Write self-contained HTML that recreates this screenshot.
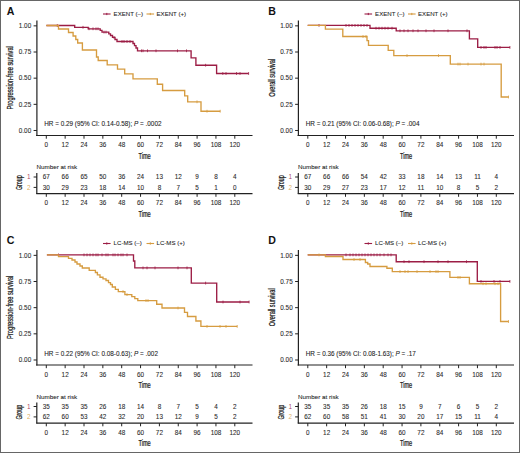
<!DOCTYPE html>
<html><head><meta charset="utf-8"><style>
html,body{margin:0;padding:0;background:#fff;}
svg{display:block;}
text{font-family:"Liberation Sans", sans-serif;}
.t{stroke:#2a2a2a;stroke-width:0.08px;}
</style></head><body>
<svg width="520" height="453" viewBox="0 0 520 453">
<rect x="0" y="0" width="520" height="453" fill="#fff"/>
<rect x="0.5" y="0.5" width="519" height="452" fill="none" stroke="#666" stroke-width="1"/>
<text x="6.8" y="14.9" font-size="10.6" font-weight="bold" fill="#111">A</text>
<line x1="103" y1="14" x2="110.6" y2="14" stroke="#9c1d45" stroke-width="1.1"/>
<line x1="106.8" y1="12.9" x2="106.8" y2="15.1" stroke="#9c1d45" stroke-width="1"/>
<text x="113.6" y="15.9" font-size="6.1" fill="#222" class="t">EXENT (–)</text>
<line x1="146.5" y1="14" x2="154.1" y2="14" stroke="#d69c40" stroke-width="1.1"/>
<line x1="150.3" y1="12.9" x2="150.3" y2="15.1" stroke="#d69c40" stroke-width="1"/>
<text x="156.5" y="15.9" font-size="6.1" fill="#222" class="t">EXENT (+)</text>
<line x1="36.9" y1="20.6" x2="36.9" y2="136.1" stroke="#222222" stroke-width="1.2"/>
<line x1="33.6" y1="25.85" x2="36.9" y2="25.85" stroke="#222222" stroke-width="1"/>
<text x="31.2" y="28.05" font-size="6.35" fill="#2a2a2a" class="t" text-anchor="end">1.00</text>
<line x1="33.6" y1="52.01" x2="36.9" y2="52.01" stroke="#222222" stroke-width="1"/>
<text x="31.2" y="54.21" font-size="6.35" fill="#2a2a2a" class="t" text-anchor="end">0.75</text>
<line x1="33.6" y1="78.17" x2="36.9" y2="78.17" stroke="#222222" stroke-width="1"/>
<text x="31.2" y="80.37" font-size="6.35" fill="#2a2a2a" class="t" text-anchor="end">0.50</text>
<line x1="33.6" y1="104.33" x2="36.9" y2="104.33" stroke="#222222" stroke-width="1"/>
<text x="31.2" y="106.53" font-size="6.35" fill="#2a2a2a" class="t" text-anchor="end">0.25</text>
<line x1="33.6" y1="130.49" x2="36.9" y2="130.49" stroke="#222222" stroke-width="1"/>
<text x="31.2" y="132.69" font-size="6.35" fill="#2a2a2a" class="t" text-anchor="end">0.00</text>
<line x1="36.1" y1="135.5" x2="252.5" y2="135.5" stroke="#222222" stroke-width="1.2"/>
<line x1="46.3" y1="135.5" x2="46.3" y2="138.7" stroke="#222222" stroke-width="1"/>
<text x="46.3" y="147.4" font-size="6.35" fill="#2a2a2a" class="t" text-anchor="middle">0</text>
<line x1="65.15" y1="135.5" x2="65.15" y2="138.7" stroke="#222222" stroke-width="1"/>
<text x="65.15" y="147.4" font-size="6.35" fill="#2a2a2a" class="t" text-anchor="middle">12</text>
<line x1="84" y1="135.5" x2="84" y2="138.7" stroke="#222222" stroke-width="1"/>
<text x="84" y="147.4" font-size="6.35" fill="#2a2a2a" class="t" text-anchor="middle">24</text>
<line x1="102.85" y1="135.5" x2="102.85" y2="138.7" stroke="#222222" stroke-width="1"/>
<text x="102.85" y="147.4" font-size="6.35" fill="#2a2a2a" class="t" text-anchor="middle">36</text>
<line x1="121.7" y1="135.5" x2="121.7" y2="138.7" stroke="#222222" stroke-width="1"/>
<text x="121.7" y="147.4" font-size="6.35" fill="#2a2a2a" class="t" text-anchor="middle">48</text>
<line x1="140.55" y1="135.5" x2="140.55" y2="138.7" stroke="#222222" stroke-width="1"/>
<text x="140.55" y="147.4" font-size="6.35" fill="#2a2a2a" class="t" text-anchor="middle">60</text>
<line x1="159.4" y1="135.5" x2="159.4" y2="138.7" stroke="#222222" stroke-width="1"/>
<text x="159.4" y="147.4" font-size="6.35" fill="#2a2a2a" class="t" text-anchor="middle">72</text>
<line x1="178.25" y1="135.5" x2="178.25" y2="138.7" stroke="#222222" stroke-width="1"/>
<text x="178.25" y="147.4" font-size="6.35" fill="#2a2a2a" class="t" text-anchor="middle">84</text>
<line x1="197.1" y1="135.5" x2="197.1" y2="138.7" stroke="#222222" stroke-width="1"/>
<text x="197.1" y="147.4" font-size="6.35" fill="#2a2a2a" class="t" text-anchor="middle">96</text>
<line x1="215.95" y1="135.5" x2="215.95" y2="138.7" stroke="#222222" stroke-width="1"/>
<text x="215.95" y="147.4" font-size="6.35" fill="#2a2a2a" class="t" text-anchor="middle">108</text>
<line x1="234.8" y1="135.5" x2="234.8" y2="138.7" stroke="#222222" stroke-width="1"/>
<text x="234.8" y="147.4" font-size="6.35" fill="#2a2a2a" class="t" text-anchor="middle">120</text>
<text transform="translate(144.6 158.5) scale(0.67 1)" font-size="8.4" fill="#1a1a1a" stroke="#1a1a1a" stroke-width="0.25" text-anchor="middle">Time</text>
<text transform="translate(13.3 77.8) rotate(-90) scale(0.69 1)" font-size="8.3" fill="#1a1a1a" stroke="#1a1a1a" stroke-width="0.25" text-anchor="middle">Progression-free survival</text>
<text x="44.2" y="126.3" font-size="6.38" fill="#222" class="t">HR = 0.29 (95% CI: 0.14-0.58); <tspan font-style="italic">P</tspan> = .0002</text>
<path d="M46.4 25.5H74.7V27.3H88.2V28.8H100.2V30.4H102V32.1H108.8V33.8H110.5V35.5H112.5V37.4H115V39.5H117V41.5H133V43.5H134.5V45.6H136V48H137.5V50.8H191.1V57.9H195.9V65.2H216.6V73.5H248.6" fill="none" stroke="#9c1d45" stroke-width="1.35"/>
<line x1="57.3" y1="24.1" x2="57.3" y2="26.9" stroke="#9c1d45" stroke-width="0.8"/>
<line x1="83" y1="25.9" x2="83" y2="28.7" stroke="#9c1d45" stroke-width="0.8"/>
<line x1="89" y1="27.4" x2="89" y2="30.2" stroke="#9c1d45" stroke-width="0.8"/>
<line x1="93" y1="27.4" x2="93" y2="30.2" stroke="#9c1d45" stroke-width="0.8"/>
<line x1="96" y1="27.4" x2="96" y2="30.2" stroke="#9c1d45" stroke-width="0.8"/>
<line x1="98" y1="27.4" x2="98" y2="30.2" stroke="#9c1d45" stroke-width="0.8"/>
<line x1="104" y1="30.7" x2="104" y2="33.5" stroke="#9c1d45" stroke-width="0.8"/>
<line x1="106" y1="30.7" x2="106" y2="33.5" stroke="#9c1d45" stroke-width="0.8"/>
<line x1="114" y1="36" x2="114" y2="38.8" stroke="#9c1d45" stroke-width="0.8"/>
<line x1="122" y1="40.1" x2="122" y2="42.9" stroke="#9c1d45" stroke-width="0.8"/>
<line x1="124" y1="40.1" x2="124" y2="42.9" stroke="#9c1d45" stroke-width="0.8"/>
<line x1="127" y1="40.1" x2="127" y2="42.9" stroke="#9c1d45" stroke-width="0.8"/>
<line x1="130" y1="40.1" x2="130" y2="42.9" stroke="#9c1d45" stroke-width="0.8"/>
<line x1="141.5" y1="49.4" x2="141.5" y2="52.2" stroke="#9c1d45" stroke-width="0.8"/>
<line x1="143" y1="49.4" x2="143" y2="52.2" stroke="#9c1d45" stroke-width="0.8"/>
<line x1="147.5" y1="49.4" x2="147.5" y2="52.2" stroke="#9c1d45" stroke-width="0.8"/>
<line x1="156" y1="49.4" x2="156" y2="52.2" stroke="#9c1d45" stroke-width="0.8"/>
<line x1="177.5" y1="49.4" x2="177.5" y2="52.2" stroke="#9c1d45" stroke-width="0.8"/>
<line x1="186.5" y1="49.4" x2="186.5" y2="52.2" stroke="#9c1d45" stroke-width="0.8"/>
<line x1="205.6" y1="63.8" x2="205.6" y2="66.6" stroke="#9c1d45" stroke-width="0.8"/>
<line x1="222.8" y1="72.1" x2="222.8" y2="74.9" stroke="#9c1d45" stroke-width="0.8"/>
<line x1="226" y1="72.1" x2="226" y2="74.9" stroke="#9c1d45" stroke-width="0.8"/>
<line x1="236.5" y1="72.1" x2="236.5" y2="74.9" stroke="#9c1d45" stroke-width="0.8"/>
<line x1="240" y1="72.1" x2="240" y2="74.9" stroke="#9c1d45" stroke-width="0.8"/>
<line x1="248.6" y1="72.1" x2="248.6" y2="74.9" stroke="#9c1d45" stroke-width="0.8"/>
<path d="M46.4 25.5H58.5V29H68.5V32.5H73.1V36H75.8V39.5H77.7V43H82.4V50H96.5V57H98.2V60.5H107.2V64.9H117.5V69.1H124.7V73.8H133V78.8H157.3V84.2H162.6V90.5H184.7V95.8H187.7V101.8H201V111.2H220.2" fill="none" stroke="#d69c40" stroke-width="1.35"/>
<line x1="197" y1="100.4" x2="197" y2="103.2" stroke="#d69c40" stroke-width="0.8"/>
<line x1="207" y1="109.8" x2="207" y2="112.6" stroke="#d69c40" stroke-width="0.8"/>
<line x1="220.2" y1="109.8" x2="220.2" y2="112.6" stroke="#d69c40" stroke-width="0.8"/>
<text x="36.6" y="169.4" font-size="6.25" fill="#222" class="t">Number at risk</text>
<line x1="36.8" y1="173" x2="36.8" y2="194" stroke="#222222" stroke-width="1.2"/>
<line x1="36.3" y1="193.6" x2="252.5" y2="193.6" stroke="#222222" stroke-width="1.2"/>
<line x1="33.6" y1="177" x2="36.8" y2="177" stroke="#222222" stroke-width="1"/>
<text x="28.8" y="179.2" font-size="6.35" fill="#9c1d45" fill-opacity="0.85" text-anchor="middle">1</text>
<text x="46.3" y="179.2" font-size="6.35" fill="#2a2a2a" class="t" text-anchor="middle">67</text>
<text x="65.15" y="179.2" font-size="6.35" fill="#2a2a2a" class="t" text-anchor="middle">66</text>
<text x="84" y="179.2" font-size="6.35" fill="#2a2a2a" class="t" text-anchor="middle">65</text>
<text x="102.85" y="179.2" font-size="6.35" fill="#2a2a2a" class="t" text-anchor="middle">50</text>
<text x="121.7" y="179.2" font-size="6.35" fill="#2a2a2a" class="t" text-anchor="middle">36</text>
<text x="140.55" y="179.2" font-size="6.35" fill="#2a2a2a" class="t" text-anchor="middle">24</text>
<text x="159.4" y="179.2" font-size="6.35" fill="#2a2a2a" class="t" text-anchor="middle">13</text>
<text x="178.25" y="179.2" font-size="6.35" fill="#2a2a2a" class="t" text-anchor="middle">12</text>
<text x="197.1" y="179.2" font-size="6.35" fill="#2a2a2a" class="t" text-anchor="middle">9</text>
<text x="215.95" y="179.2" font-size="6.35" fill="#2a2a2a" class="t" text-anchor="middle">8</text>
<text x="234.8" y="179.2" font-size="6.35" fill="#2a2a2a" class="t" text-anchor="middle">4</text>
<line x1="33.6" y1="187.4" x2="36.8" y2="187.4" stroke="#222222" stroke-width="1"/>
<text x="28.8" y="189.6" font-size="6.35" fill="#d69c40" fill-opacity="0.85" text-anchor="middle">2</text>
<text x="46.3" y="189.6" font-size="6.35" fill="#2a2a2a" class="t" text-anchor="middle">30</text>
<text x="65.15" y="189.6" font-size="6.35" fill="#2a2a2a" class="t" text-anchor="middle">29</text>
<text x="84" y="189.6" font-size="6.35" fill="#2a2a2a" class="t" text-anchor="middle">23</text>
<text x="102.85" y="189.6" font-size="6.35" fill="#2a2a2a" class="t" text-anchor="middle">18</text>
<text x="121.7" y="189.6" font-size="6.35" fill="#2a2a2a" class="t" text-anchor="middle">14</text>
<text x="140.55" y="189.6" font-size="6.35" fill="#2a2a2a" class="t" text-anchor="middle">10</text>
<text x="159.4" y="189.6" font-size="6.35" fill="#2a2a2a" class="t" text-anchor="middle">8</text>
<text x="178.25" y="189.6" font-size="6.35" fill="#2a2a2a" class="t" text-anchor="middle">7</text>
<text x="197.1" y="189.6" font-size="6.35" fill="#2a2a2a" class="t" text-anchor="middle">5</text>
<text x="215.95" y="189.6" font-size="6.35" fill="#2a2a2a" class="t" text-anchor="middle">1</text>
<text x="234.8" y="189.6" font-size="6.35" fill="#2a2a2a" class="t" text-anchor="middle">0</text>
<line x1="46.3" y1="193.6" x2="46.3" y2="196.8" stroke="#222222" stroke-width="1"/>
<text x="46.3" y="205.3" font-size="6.35" fill="#2a2a2a" class="t" text-anchor="middle">0</text>
<line x1="65.15" y1="193.6" x2="65.15" y2="196.8" stroke="#222222" stroke-width="1"/>
<text x="65.15" y="205.3" font-size="6.35" fill="#2a2a2a" class="t" text-anchor="middle">12</text>
<line x1="84" y1="193.6" x2="84" y2="196.8" stroke="#222222" stroke-width="1"/>
<text x="84" y="205.3" font-size="6.35" fill="#2a2a2a" class="t" text-anchor="middle">24</text>
<line x1="102.85" y1="193.6" x2="102.85" y2="196.8" stroke="#222222" stroke-width="1"/>
<text x="102.85" y="205.3" font-size="6.35" fill="#2a2a2a" class="t" text-anchor="middle">36</text>
<line x1="121.7" y1="193.6" x2="121.7" y2="196.8" stroke="#222222" stroke-width="1"/>
<text x="121.7" y="205.3" font-size="6.35" fill="#2a2a2a" class="t" text-anchor="middle">48</text>
<line x1="140.55" y1="193.6" x2="140.55" y2="196.8" stroke="#222222" stroke-width="1"/>
<text x="140.55" y="205.3" font-size="6.35" fill="#2a2a2a" class="t" text-anchor="middle">60</text>
<line x1="159.4" y1="193.6" x2="159.4" y2="196.8" stroke="#222222" stroke-width="1"/>
<text x="159.4" y="205.3" font-size="6.35" fill="#2a2a2a" class="t" text-anchor="middle">72</text>
<line x1="178.25" y1="193.6" x2="178.25" y2="196.8" stroke="#222222" stroke-width="1"/>
<text x="178.25" y="205.3" font-size="6.35" fill="#2a2a2a" class="t" text-anchor="middle">84</text>
<line x1="197.1" y1="193.6" x2="197.1" y2="196.8" stroke="#222222" stroke-width="1"/>
<text x="197.1" y="205.3" font-size="6.35" fill="#2a2a2a" class="t" text-anchor="middle">96</text>
<line x1="215.95" y1="193.6" x2="215.95" y2="196.8" stroke="#222222" stroke-width="1"/>
<text x="215.95" y="205.3" font-size="6.35" fill="#2a2a2a" class="t" text-anchor="middle">108</text>
<line x1="234.8" y1="193.6" x2="234.8" y2="196.8" stroke="#222222" stroke-width="1"/>
<text x="234.8" y="205.3" font-size="6.35" fill="#2a2a2a" class="t" text-anchor="middle">120</text>
<text transform="translate(144.6 216.5) scale(0.67 1)" font-size="8.4" fill="#1a1a1a" stroke="#1a1a1a" stroke-width="0.25" text-anchor="middle">Time</text>
<text transform="translate(22 182.7) rotate(-90) scale(0.64 1)" font-size="8.2" fill="#1a1a1a" stroke="#1a1a1a" stroke-width="0.25" text-anchor="middle">Group</text>
<text x="268.3" y="14.9" font-size="10.6" font-weight="bold" fill="#111">B</text>
<line x1="364.5" y1="14" x2="372.1" y2="14" stroke="#9c1d45" stroke-width="1.1"/>
<line x1="368.3" y1="12.9" x2="368.3" y2="15.1" stroke="#9c1d45" stroke-width="1"/>
<text x="375.1" y="15.9" font-size="6.1" fill="#222" class="t">EXENT (–)</text>
<line x1="408" y1="14" x2="415.6" y2="14" stroke="#d69c40" stroke-width="1.1"/>
<line x1="411.8" y1="12.9" x2="411.8" y2="15.1" stroke="#d69c40" stroke-width="1"/>
<text x="418" y="15.9" font-size="6.1" fill="#222" class="t">EXENT (+)</text>
<line x1="298.4" y1="20.6" x2="298.4" y2="136.1" stroke="#222222" stroke-width="1.2"/>
<line x1="295.1" y1="25.85" x2="298.4" y2="25.85" stroke="#222222" stroke-width="1"/>
<text x="292.7" y="28.05" font-size="6.35" fill="#2a2a2a" class="t" text-anchor="end">1.00</text>
<line x1="295.1" y1="52.01" x2="298.4" y2="52.01" stroke="#222222" stroke-width="1"/>
<text x="292.7" y="54.21" font-size="6.35" fill="#2a2a2a" class="t" text-anchor="end">0.75</text>
<line x1="295.1" y1="78.17" x2="298.4" y2="78.17" stroke="#222222" stroke-width="1"/>
<text x="292.7" y="80.37" font-size="6.35" fill="#2a2a2a" class="t" text-anchor="end">0.50</text>
<line x1="295.1" y1="104.33" x2="298.4" y2="104.33" stroke="#222222" stroke-width="1"/>
<text x="292.7" y="106.53" font-size="6.35" fill="#2a2a2a" class="t" text-anchor="end">0.25</text>
<line x1="295.1" y1="130.49" x2="298.4" y2="130.49" stroke="#222222" stroke-width="1"/>
<text x="292.7" y="132.69" font-size="6.35" fill="#2a2a2a" class="t" text-anchor="end">0.00</text>
<line x1="297.6" y1="135.5" x2="514" y2="135.5" stroke="#222222" stroke-width="1.2"/>
<line x1="307.8" y1="135.5" x2="307.8" y2="138.7" stroke="#222222" stroke-width="1"/>
<text x="307.8" y="147.4" font-size="6.35" fill="#2a2a2a" class="t" text-anchor="middle">0</text>
<line x1="326.65" y1="135.5" x2="326.65" y2="138.7" stroke="#222222" stroke-width="1"/>
<text x="326.65" y="147.4" font-size="6.35" fill="#2a2a2a" class="t" text-anchor="middle">12</text>
<line x1="345.5" y1="135.5" x2="345.5" y2="138.7" stroke="#222222" stroke-width="1"/>
<text x="345.5" y="147.4" font-size="6.35" fill="#2a2a2a" class="t" text-anchor="middle">24</text>
<line x1="364.35" y1="135.5" x2="364.35" y2="138.7" stroke="#222222" stroke-width="1"/>
<text x="364.35" y="147.4" font-size="6.35" fill="#2a2a2a" class="t" text-anchor="middle">36</text>
<line x1="383.2" y1="135.5" x2="383.2" y2="138.7" stroke="#222222" stroke-width="1"/>
<text x="383.2" y="147.4" font-size="6.35" fill="#2a2a2a" class="t" text-anchor="middle">48</text>
<line x1="402.05" y1="135.5" x2="402.05" y2="138.7" stroke="#222222" stroke-width="1"/>
<text x="402.05" y="147.4" font-size="6.35" fill="#2a2a2a" class="t" text-anchor="middle">60</text>
<line x1="420.9" y1="135.5" x2="420.9" y2="138.7" stroke="#222222" stroke-width="1"/>
<text x="420.9" y="147.4" font-size="6.35" fill="#2a2a2a" class="t" text-anchor="middle">72</text>
<line x1="439.75" y1="135.5" x2="439.75" y2="138.7" stroke="#222222" stroke-width="1"/>
<text x="439.75" y="147.4" font-size="6.35" fill="#2a2a2a" class="t" text-anchor="middle">84</text>
<line x1="458.6" y1="135.5" x2="458.6" y2="138.7" stroke="#222222" stroke-width="1"/>
<text x="458.6" y="147.4" font-size="6.35" fill="#2a2a2a" class="t" text-anchor="middle">96</text>
<line x1="477.45" y1="135.5" x2="477.45" y2="138.7" stroke="#222222" stroke-width="1"/>
<text x="477.45" y="147.4" font-size="6.35" fill="#2a2a2a" class="t" text-anchor="middle">108</text>
<line x1="496.3" y1="135.5" x2="496.3" y2="138.7" stroke="#222222" stroke-width="1"/>
<text x="496.3" y="147.4" font-size="6.35" fill="#2a2a2a" class="t" text-anchor="middle">120</text>
<text transform="translate(406.1 158.5) scale(0.67 1)" font-size="8.4" fill="#1a1a1a" stroke="#1a1a1a" stroke-width="0.25" text-anchor="middle">Time</text>
<text transform="translate(274.8 77.8) rotate(-90) scale(0.67 1)" font-size="8.3" fill="#1a1a1a" stroke="#1a1a1a" stroke-width="0.25" text-anchor="middle">Overall survival</text>
<text x="305.7" y="126.3" font-size="6.38" fill="#222" class="t">HR = 0.21 (95% CI: 0.06-0.68); <tspan font-style="italic">P</tspan> = .004</text>
<path d="M307.7 25.4H370V28.2H396.2V30.8H469.4V38.9H477.7V47.4H509.9" fill="none" stroke="#9c1d45" stroke-width="1.35"/>
<line x1="319" y1="24" x2="319" y2="26.8" stroke="#9c1d45" stroke-width="0.8"/>
<line x1="346" y1="24" x2="346" y2="26.8" stroke="#9c1d45" stroke-width="0.8"/>
<line x1="349" y1="24" x2="349" y2="26.8" stroke="#9c1d45" stroke-width="0.8"/>
<line x1="352" y1="24" x2="352" y2="26.8" stroke="#9c1d45" stroke-width="0.8"/>
<line x1="355" y1="24" x2="355" y2="26.8" stroke="#9c1d45" stroke-width="0.8"/>
<line x1="358" y1="24" x2="358" y2="26.8" stroke="#9c1d45" stroke-width="0.8"/>
<line x1="361" y1="24" x2="361" y2="26.8" stroke="#9c1d45" stroke-width="0.8"/>
<line x1="364" y1="24" x2="364" y2="26.8" stroke="#9c1d45" stroke-width="0.8"/>
<line x1="367" y1="24" x2="367" y2="26.8" stroke="#9c1d45" stroke-width="0.8"/>
<line x1="376" y1="26.8" x2="376" y2="29.6" stroke="#9c1d45" stroke-width="0.8"/>
<line x1="379" y1="26.8" x2="379" y2="29.6" stroke="#9c1d45" stroke-width="0.8"/>
<line x1="382" y1="26.8" x2="382" y2="29.6" stroke="#9c1d45" stroke-width="0.8"/>
<line x1="385" y1="26.8" x2="385" y2="29.6" stroke="#9c1d45" stroke-width="0.8"/>
<line x1="388" y1="26.8" x2="388" y2="29.6" stroke="#9c1d45" stroke-width="0.8"/>
<line x1="392" y1="26.8" x2="392" y2="29.6" stroke="#9c1d45" stroke-width="0.8"/>
<line x1="400" y1="29.4" x2="400" y2="32.2" stroke="#9c1d45" stroke-width="0.8"/>
<line x1="404" y1="29.4" x2="404" y2="32.2" stroke="#9c1d45" stroke-width="0.8"/>
<line x1="408" y1="29.4" x2="408" y2="32.2" stroke="#9c1d45" stroke-width="0.8"/>
<line x1="413" y1="29.4" x2="413" y2="32.2" stroke="#9c1d45" stroke-width="0.8"/>
<line x1="418" y1="29.4" x2="418" y2="32.2" stroke="#9c1d45" stroke-width="0.8"/>
<line x1="426" y1="29.4" x2="426" y2="32.2" stroke="#9c1d45" stroke-width="0.8"/>
<line x1="434" y1="29.4" x2="434" y2="32.2" stroke="#9c1d45" stroke-width="0.8"/>
<line x1="448" y1="29.4" x2="448" y2="32.2" stroke="#9c1d45" stroke-width="0.8"/>
<line x1="467" y1="29.4" x2="467" y2="32.2" stroke="#9c1d45" stroke-width="0.8"/>
<line x1="481" y1="46" x2="481" y2="48.8" stroke="#9c1d45" stroke-width="0.8"/>
<line x1="484" y1="46" x2="484" y2="48.8" stroke="#9c1d45" stroke-width="0.8"/>
<line x1="486" y1="46" x2="486" y2="48.8" stroke="#9c1d45" stroke-width="0.8"/>
<line x1="495" y1="46" x2="495" y2="48.8" stroke="#9c1d45" stroke-width="0.8"/>
<line x1="497" y1="46" x2="497" y2="48.8" stroke="#9c1d45" stroke-width="0.8"/>
<line x1="500" y1="46" x2="500" y2="48.8" stroke="#9c1d45" stroke-width="0.8"/>
<line x1="509.9" y1="46" x2="509.9" y2="48.8" stroke="#9c1d45" stroke-width="0.8"/>
<path d="M307.7 25.4H325.4V29.1H342.8V36.5H367V40.6H368.5V45.4H388.2V50.3H393.8V55.6H450.3V64.1H501.2V97H508.5" fill="none" stroke="#d69c40" stroke-width="1.35"/>
<line x1="363" y1="35.1" x2="363" y2="37.9" stroke="#d69c40" stroke-width="0.8"/>
<line x1="366" y1="35.1" x2="366" y2="37.9" stroke="#d69c40" stroke-width="0.8"/>
<line x1="407" y1="54.2" x2="407" y2="57" stroke="#d69c40" stroke-width="0.8"/>
<line x1="438.5" y1="54.2" x2="438.5" y2="57" stroke="#d69c40" stroke-width="0.8"/>
<line x1="458" y1="62.7" x2="458" y2="65.5" stroke="#d69c40" stroke-width="0.8"/>
<line x1="460" y1="62.7" x2="460" y2="65.5" stroke="#d69c40" stroke-width="0.8"/>
<line x1="468" y1="62.7" x2="468" y2="65.5" stroke="#d69c40" stroke-width="0.8"/>
<line x1="481" y1="62.7" x2="481" y2="65.5" stroke="#d69c40" stroke-width="0.8"/>
<line x1="484" y1="62.7" x2="484" y2="65.5" stroke="#d69c40" stroke-width="0.8"/>
<line x1="508.5" y1="95.6" x2="508.5" y2="98.4" stroke="#d69c40" stroke-width="0.8"/>
<text x="298.1" y="169.4" font-size="6.25" fill="#222" class="t">Number at risk</text>
<line x1="298.3" y1="173" x2="298.3" y2="194" stroke="#222222" stroke-width="1.2"/>
<line x1="297.8" y1="193.6" x2="514" y2="193.6" stroke="#222222" stroke-width="1.2"/>
<line x1="295.1" y1="177" x2="298.3" y2="177" stroke="#222222" stroke-width="1"/>
<text x="290.3" y="179.2" font-size="6.35" fill="#9c1d45" fill-opacity="0.85" text-anchor="middle">1</text>
<text x="307.8" y="179.2" font-size="6.35" fill="#2a2a2a" class="t" text-anchor="middle">67</text>
<text x="326.65" y="179.2" font-size="6.35" fill="#2a2a2a" class="t" text-anchor="middle">66</text>
<text x="345.5" y="179.2" font-size="6.35" fill="#2a2a2a" class="t" text-anchor="middle">66</text>
<text x="364.35" y="179.2" font-size="6.35" fill="#2a2a2a" class="t" text-anchor="middle">54</text>
<text x="383.2" y="179.2" font-size="6.35" fill="#2a2a2a" class="t" text-anchor="middle">42</text>
<text x="402.05" y="179.2" font-size="6.35" fill="#2a2a2a" class="t" text-anchor="middle">33</text>
<text x="420.9" y="179.2" font-size="6.35" fill="#2a2a2a" class="t" text-anchor="middle">18</text>
<text x="439.75" y="179.2" font-size="6.35" fill="#2a2a2a" class="t" text-anchor="middle">14</text>
<text x="458.6" y="179.2" font-size="6.35" fill="#2a2a2a" class="t" text-anchor="middle">13</text>
<text x="477.45" y="179.2" font-size="6.35" fill="#2a2a2a" class="t" text-anchor="middle">11</text>
<text x="496.3" y="179.2" font-size="6.35" fill="#2a2a2a" class="t" text-anchor="middle">4</text>
<line x1="295.1" y1="187.4" x2="298.3" y2="187.4" stroke="#222222" stroke-width="1"/>
<text x="290.3" y="189.6" font-size="6.35" fill="#d69c40" fill-opacity="0.85" text-anchor="middle">2</text>
<text x="307.8" y="189.6" font-size="6.35" fill="#2a2a2a" class="t" text-anchor="middle">30</text>
<text x="326.65" y="189.6" font-size="6.35" fill="#2a2a2a" class="t" text-anchor="middle">29</text>
<text x="345.5" y="189.6" font-size="6.35" fill="#2a2a2a" class="t" text-anchor="middle">27</text>
<text x="364.35" y="189.6" font-size="6.35" fill="#2a2a2a" class="t" text-anchor="middle">23</text>
<text x="383.2" y="189.6" font-size="6.35" fill="#2a2a2a" class="t" text-anchor="middle">17</text>
<text x="402.05" y="189.6" font-size="6.35" fill="#2a2a2a" class="t" text-anchor="middle">12</text>
<text x="420.9" y="189.6" font-size="6.35" fill="#2a2a2a" class="t" text-anchor="middle">11</text>
<text x="439.75" y="189.6" font-size="6.35" fill="#2a2a2a" class="t" text-anchor="middle">10</text>
<text x="458.6" y="189.6" font-size="6.35" fill="#2a2a2a" class="t" text-anchor="middle">8</text>
<text x="477.45" y="189.6" font-size="6.35" fill="#2a2a2a" class="t" text-anchor="middle">5</text>
<text x="496.3" y="189.6" font-size="6.35" fill="#2a2a2a" class="t" text-anchor="middle">2</text>
<line x1="307.8" y1="193.6" x2="307.8" y2="196.8" stroke="#222222" stroke-width="1"/>
<text x="307.8" y="205.3" font-size="6.35" fill="#2a2a2a" class="t" text-anchor="middle">0</text>
<line x1="326.65" y1="193.6" x2="326.65" y2="196.8" stroke="#222222" stroke-width="1"/>
<text x="326.65" y="205.3" font-size="6.35" fill="#2a2a2a" class="t" text-anchor="middle">12</text>
<line x1="345.5" y1="193.6" x2="345.5" y2="196.8" stroke="#222222" stroke-width="1"/>
<text x="345.5" y="205.3" font-size="6.35" fill="#2a2a2a" class="t" text-anchor="middle">24</text>
<line x1="364.35" y1="193.6" x2="364.35" y2="196.8" stroke="#222222" stroke-width="1"/>
<text x="364.35" y="205.3" font-size="6.35" fill="#2a2a2a" class="t" text-anchor="middle">36</text>
<line x1="383.2" y1="193.6" x2="383.2" y2="196.8" stroke="#222222" stroke-width="1"/>
<text x="383.2" y="205.3" font-size="6.35" fill="#2a2a2a" class="t" text-anchor="middle">48</text>
<line x1="402.05" y1="193.6" x2="402.05" y2="196.8" stroke="#222222" stroke-width="1"/>
<text x="402.05" y="205.3" font-size="6.35" fill="#2a2a2a" class="t" text-anchor="middle">60</text>
<line x1="420.9" y1="193.6" x2="420.9" y2="196.8" stroke="#222222" stroke-width="1"/>
<text x="420.9" y="205.3" font-size="6.35" fill="#2a2a2a" class="t" text-anchor="middle">72</text>
<line x1="439.75" y1="193.6" x2="439.75" y2="196.8" stroke="#222222" stroke-width="1"/>
<text x="439.75" y="205.3" font-size="6.35" fill="#2a2a2a" class="t" text-anchor="middle">84</text>
<line x1="458.6" y1="193.6" x2="458.6" y2="196.8" stroke="#222222" stroke-width="1"/>
<text x="458.6" y="205.3" font-size="6.35" fill="#2a2a2a" class="t" text-anchor="middle">96</text>
<line x1="477.45" y1="193.6" x2="477.45" y2="196.8" stroke="#222222" stroke-width="1"/>
<text x="477.45" y="205.3" font-size="6.35" fill="#2a2a2a" class="t" text-anchor="middle">108</text>
<line x1="496.3" y1="193.6" x2="496.3" y2="196.8" stroke="#222222" stroke-width="1"/>
<text x="496.3" y="205.3" font-size="6.35" fill="#2a2a2a" class="t" text-anchor="middle">120</text>
<text transform="translate(406.1 216.5) scale(0.67 1)" font-size="8.4" fill="#1a1a1a" stroke="#1a1a1a" stroke-width="0.25" text-anchor="middle">Time</text>
<text transform="translate(283.5 182.7) rotate(-90) scale(0.64 1)" font-size="8.2" fill="#1a1a1a" stroke="#1a1a1a" stroke-width="0.25" text-anchor="middle">Group</text>
<text x="6.8" y="244.4" font-size="10.6" font-weight="bold" fill="#111">C</text>
<line x1="103" y1="243.5" x2="110.6" y2="243.5" stroke="#9c1d45" stroke-width="1.1"/>
<line x1="106.8" y1="242.4" x2="106.8" y2="244.6" stroke="#9c1d45" stroke-width="1"/>
<text x="113.6" y="245.4" font-size="6.1" fill="#222" class="t">LC-MS (–)</text>
<line x1="146.5" y1="243.5" x2="154.1" y2="243.5" stroke="#d69c40" stroke-width="1.1"/>
<line x1="150.3" y1="242.4" x2="150.3" y2="244.6" stroke="#d69c40" stroke-width="1"/>
<text x="156.5" y="245.4" font-size="6.1" fill="#222" class="t">LC-MS (+)</text>
<line x1="36.9" y1="250.1" x2="36.9" y2="365.6" stroke="#222222" stroke-width="1.2"/>
<line x1="33.6" y1="255.35" x2="36.9" y2="255.35" stroke="#222222" stroke-width="1"/>
<text x="31.2" y="257.55" font-size="6.35" fill="#2a2a2a" class="t" text-anchor="end">1.00</text>
<line x1="33.6" y1="281.51" x2="36.9" y2="281.51" stroke="#222222" stroke-width="1"/>
<text x="31.2" y="283.71" font-size="6.35" fill="#2a2a2a" class="t" text-anchor="end">0.75</text>
<line x1="33.6" y1="307.67" x2="36.9" y2="307.67" stroke="#222222" stroke-width="1"/>
<text x="31.2" y="309.87" font-size="6.35" fill="#2a2a2a" class="t" text-anchor="end">0.50</text>
<line x1="33.6" y1="333.83" x2="36.9" y2="333.83" stroke="#222222" stroke-width="1"/>
<text x="31.2" y="336.03" font-size="6.35" fill="#2a2a2a" class="t" text-anchor="end">0.25</text>
<line x1="33.6" y1="359.99" x2="36.9" y2="359.99" stroke="#222222" stroke-width="1"/>
<text x="31.2" y="362.19" font-size="6.35" fill="#2a2a2a" class="t" text-anchor="end">0.00</text>
<line x1="36.1" y1="365" x2="252.5" y2="365" stroke="#222222" stroke-width="1.2"/>
<line x1="46.3" y1="365" x2="46.3" y2="368.2" stroke="#222222" stroke-width="1"/>
<text x="46.3" y="376.9" font-size="6.35" fill="#2a2a2a" class="t" text-anchor="middle">0</text>
<line x1="65.15" y1="365" x2="65.15" y2="368.2" stroke="#222222" stroke-width="1"/>
<text x="65.15" y="376.9" font-size="6.35" fill="#2a2a2a" class="t" text-anchor="middle">12</text>
<line x1="84" y1="365" x2="84" y2="368.2" stroke="#222222" stroke-width="1"/>
<text x="84" y="376.9" font-size="6.35" fill="#2a2a2a" class="t" text-anchor="middle">24</text>
<line x1="102.85" y1="365" x2="102.85" y2="368.2" stroke="#222222" stroke-width="1"/>
<text x="102.85" y="376.9" font-size="6.35" fill="#2a2a2a" class="t" text-anchor="middle">36</text>
<line x1="121.7" y1="365" x2="121.7" y2="368.2" stroke="#222222" stroke-width="1"/>
<text x="121.7" y="376.9" font-size="6.35" fill="#2a2a2a" class="t" text-anchor="middle">48</text>
<line x1="140.55" y1="365" x2="140.55" y2="368.2" stroke="#222222" stroke-width="1"/>
<text x="140.55" y="376.9" font-size="6.35" fill="#2a2a2a" class="t" text-anchor="middle">60</text>
<line x1="159.4" y1="365" x2="159.4" y2="368.2" stroke="#222222" stroke-width="1"/>
<text x="159.4" y="376.9" font-size="6.35" fill="#2a2a2a" class="t" text-anchor="middle">72</text>
<line x1="178.25" y1="365" x2="178.25" y2="368.2" stroke="#222222" stroke-width="1"/>
<text x="178.25" y="376.9" font-size="6.35" fill="#2a2a2a" class="t" text-anchor="middle">84</text>
<line x1="197.1" y1="365" x2="197.1" y2="368.2" stroke="#222222" stroke-width="1"/>
<text x="197.1" y="376.9" font-size="6.35" fill="#2a2a2a" class="t" text-anchor="middle">96</text>
<line x1="215.95" y1="365" x2="215.95" y2="368.2" stroke="#222222" stroke-width="1"/>
<text x="215.95" y="376.9" font-size="6.35" fill="#2a2a2a" class="t" text-anchor="middle">108</text>
<line x1="234.8" y1="365" x2="234.8" y2="368.2" stroke="#222222" stroke-width="1"/>
<text x="234.8" y="376.9" font-size="6.35" fill="#2a2a2a" class="t" text-anchor="middle">120</text>
<text transform="translate(144.6 388) scale(0.67 1)" font-size="8.4" fill="#1a1a1a" stroke="#1a1a1a" stroke-width="0.25" text-anchor="middle">Time</text>
<text transform="translate(13.3 307.3) rotate(-90) scale(0.69 1)" font-size="8.3" fill="#1a1a1a" stroke="#1a1a1a" stroke-width="0.25" text-anchor="middle">Progression-free survival</text>
<text x="44.2" y="355.8" font-size="6.38" fill="#222" class="t">HR = 0.22 (95% CI: 0.08-0.63); <tspan font-style="italic">P</tspan> = .002</text>
<path d="M46.9 254.9H133.5V261H134.8V267.9H191.3V283.1H216.7V302H249.1" fill="none" stroke="#9c1d45" stroke-width="1.35"/>
<line x1="58.5" y1="253.5" x2="58.5" y2="256.3" stroke="#9c1d45" stroke-width="0.8"/>
<line x1="84" y1="253.5" x2="84" y2="256.3" stroke="#9c1d45" stroke-width="0.8"/>
<line x1="87" y1="253.5" x2="87" y2="256.3" stroke="#9c1d45" stroke-width="0.8"/>
<line x1="90" y1="253.5" x2="90" y2="256.3" stroke="#9c1d45" stroke-width="0.8"/>
<line x1="93" y1="253.5" x2="93" y2="256.3" stroke="#9c1d45" stroke-width="0.8"/>
<line x1="96" y1="253.5" x2="96" y2="256.3" stroke="#9c1d45" stroke-width="0.8"/>
<line x1="98" y1="253.5" x2="98" y2="256.3" stroke="#9c1d45" stroke-width="0.8"/>
<line x1="102" y1="253.5" x2="102" y2="256.3" stroke="#9c1d45" stroke-width="0.8"/>
<line x1="106" y1="253.5" x2="106" y2="256.3" stroke="#9c1d45" stroke-width="0.8"/>
<line x1="108" y1="253.5" x2="108" y2="256.3" stroke="#9c1d45" stroke-width="0.8"/>
<line x1="113" y1="253.5" x2="113" y2="256.3" stroke="#9c1d45" stroke-width="0.8"/>
<line x1="115" y1="253.5" x2="115" y2="256.3" stroke="#9c1d45" stroke-width="0.8"/>
<line x1="118" y1="253.5" x2="118" y2="256.3" stroke="#9c1d45" stroke-width="0.8"/>
<line x1="121" y1="253.5" x2="121" y2="256.3" stroke="#9c1d45" stroke-width="0.8"/>
<line x1="123" y1="253.5" x2="123" y2="256.3" stroke="#9c1d45" stroke-width="0.8"/>
<line x1="127" y1="253.5" x2="127" y2="256.3" stroke="#9c1d45" stroke-width="0.8"/>
<line x1="143" y1="266.5" x2="143" y2="269.3" stroke="#9c1d45" stroke-width="0.8"/>
<line x1="147" y1="266.5" x2="147" y2="269.3" stroke="#9c1d45" stroke-width="0.8"/>
<line x1="155" y1="266.5" x2="155" y2="269.3" stroke="#9c1d45" stroke-width="0.8"/>
<line x1="178" y1="266.5" x2="178" y2="269.3" stroke="#9c1d45" stroke-width="0.8"/>
<line x1="187" y1="266.5" x2="187" y2="269.3" stroke="#9c1d45" stroke-width="0.8"/>
<line x1="205.6" y1="281.7" x2="205.6" y2="284.5" stroke="#9c1d45" stroke-width="0.8"/>
<line x1="223" y1="300.6" x2="223" y2="303.4" stroke="#9c1d45" stroke-width="0.8"/>
<line x1="240" y1="300.6" x2="240" y2="303.4" stroke="#9c1d45" stroke-width="0.8"/>
<line x1="249.1" y1="300.6" x2="249.1" y2="303.4" stroke="#9c1d45" stroke-width="0.8"/>
<path d="M46.9 254.9H58.5V256.6H68.5V258.3H72V260H75V262H77V264H80V266H82.3V268H89.2V270.3H95.4V272.5H97.4V274.9H100V277.2H103V278.8H106V280.5H108.5V282.6H110.5V284.5H112.3V287H115.4V289.3H118.3V291.6H124.9V294.6H131.8V296.6H134.8V298.6H137.8V300.6H156.7V304.2H162V308H184.5V312.3H187.5V316.5H195.9V321H200.9V326.4H237.2" fill="none" stroke="#d69c40" stroke-width="1.35"/>
<line x1="123" y1="290.2" x2="123" y2="293" stroke="#d69c40" stroke-width="0.8"/>
<line x1="127" y1="293.2" x2="127" y2="296" stroke="#d69c40" stroke-width="0.8"/>
<line x1="146" y1="299.2" x2="146" y2="302" stroke="#d69c40" stroke-width="0.8"/>
<line x1="148" y1="299.2" x2="148" y2="302" stroke="#d69c40" stroke-width="0.8"/>
<line x1="178" y1="306.6" x2="178" y2="309.4" stroke="#d69c40" stroke-width="0.8"/>
<line x1="207" y1="325" x2="207" y2="327.8" stroke="#d69c40" stroke-width="0.8"/>
<line x1="220" y1="325" x2="220" y2="327.8" stroke="#d69c40" stroke-width="0.8"/>
<line x1="226" y1="325" x2="226" y2="327.8" stroke="#d69c40" stroke-width="0.8"/>
<line x1="237.2" y1="325" x2="237.2" y2="327.8" stroke="#d69c40" stroke-width="0.8"/>
<text x="36.6" y="398.9" font-size="6.25" fill="#222" class="t">Number at risk</text>
<line x1="36.8" y1="402.5" x2="36.8" y2="423.5" stroke="#222222" stroke-width="1.2"/>
<line x1="36.3" y1="423.1" x2="252.5" y2="423.1" stroke="#222222" stroke-width="1.2"/>
<line x1="33.6" y1="406.5" x2="36.8" y2="406.5" stroke="#222222" stroke-width="1"/>
<text x="28.8" y="408.7" font-size="6.35" fill="#9c1d45" fill-opacity="0.85" text-anchor="middle">1</text>
<text x="46.3" y="408.7" font-size="6.35" fill="#2a2a2a" class="t" text-anchor="middle">35</text>
<text x="65.15" y="408.7" font-size="6.35" fill="#2a2a2a" class="t" text-anchor="middle">35</text>
<text x="84" y="408.7" font-size="6.35" fill="#2a2a2a" class="t" text-anchor="middle">35</text>
<text x="102.85" y="408.7" font-size="6.35" fill="#2a2a2a" class="t" text-anchor="middle">26</text>
<text x="121.7" y="408.7" font-size="6.35" fill="#2a2a2a" class="t" text-anchor="middle">18</text>
<text x="140.55" y="408.7" font-size="6.35" fill="#2a2a2a" class="t" text-anchor="middle">14</text>
<text x="159.4" y="408.7" font-size="6.35" fill="#2a2a2a" class="t" text-anchor="middle">8</text>
<text x="178.25" y="408.7" font-size="6.35" fill="#2a2a2a" class="t" text-anchor="middle">7</text>
<text x="197.1" y="408.7" font-size="6.35" fill="#2a2a2a" class="t" text-anchor="middle">5</text>
<text x="215.95" y="408.7" font-size="6.35" fill="#2a2a2a" class="t" text-anchor="middle">4</text>
<text x="234.8" y="408.7" font-size="6.35" fill="#2a2a2a" class="t" text-anchor="middle">2</text>
<line x1="33.6" y1="416.9" x2="36.8" y2="416.9" stroke="#222222" stroke-width="1"/>
<text x="28.8" y="419.1" font-size="6.35" fill="#d69c40" fill-opacity="0.85" text-anchor="middle">2</text>
<text x="46.3" y="419.1" font-size="6.35" fill="#2a2a2a" class="t" text-anchor="middle">62</text>
<text x="65.15" y="419.1" font-size="6.35" fill="#2a2a2a" class="t" text-anchor="middle">60</text>
<text x="84" y="419.1" font-size="6.35" fill="#2a2a2a" class="t" text-anchor="middle">53</text>
<text x="102.85" y="419.1" font-size="6.35" fill="#2a2a2a" class="t" text-anchor="middle">42</text>
<text x="121.7" y="419.1" font-size="6.35" fill="#2a2a2a" class="t" text-anchor="middle">32</text>
<text x="140.55" y="419.1" font-size="6.35" fill="#2a2a2a" class="t" text-anchor="middle">20</text>
<text x="159.4" y="419.1" font-size="6.35" fill="#2a2a2a" class="t" text-anchor="middle">13</text>
<text x="178.25" y="419.1" font-size="6.35" fill="#2a2a2a" class="t" text-anchor="middle">12</text>
<text x="197.1" y="419.1" font-size="6.35" fill="#2a2a2a" class="t" text-anchor="middle">9</text>
<text x="215.95" y="419.1" font-size="6.35" fill="#2a2a2a" class="t" text-anchor="middle">5</text>
<text x="234.8" y="419.1" font-size="6.35" fill="#2a2a2a" class="t" text-anchor="middle">2</text>
<line x1="46.3" y1="423.1" x2="46.3" y2="426.3" stroke="#222222" stroke-width="1"/>
<text x="46.3" y="434.8" font-size="6.35" fill="#2a2a2a" class="t" text-anchor="middle">0</text>
<line x1="65.15" y1="423.1" x2="65.15" y2="426.3" stroke="#222222" stroke-width="1"/>
<text x="65.15" y="434.8" font-size="6.35" fill="#2a2a2a" class="t" text-anchor="middle">12</text>
<line x1="84" y1="423.1" x2="84" y2="426.3" stroke="#222222" stroke-width="1"/>
<text x="84" y="434.8" font-size="6.35" fill="#2a2a2a" class="t" text-anchor="middle">24</text>
<line x1="102.85" y1="423.1" x2="102.85" y2="426.3" stroke="#222222" stroke-width="1"/>
<text x="102.85" y="434.8" font-size="6.35" fill="#2a2a2a" class="t" text-anchor="middle">36</text>
<line x1="121.7" y1="423.1" x2="121.7" y2="426.3" stroke="#222222" stroke-width="1"/>
<text x="121.7" y="434.8" font-size="6.35" fill="#2a2a2a" class="t" text-anchor="middle">48</text>
<line x1="140.55" y1="423.1" x2="140.55" y2="426.3" stroke="#222222" stroke-width="1"/>
<text x="140.55" y="434.8" font-size="6.35" fill="#2a2a2a" class="t" text-anchor="middle">60</text>
<line x1="159.4" y1="423.1" x2="159.4" y2="426.3" stroke="#222222" stroke-width="1"/>
<text x="159.4" y="434.8" font-size="6.35" fill="#2a2a2a" class="t" text-anchor="middle">72</text>
<line x1="178.25" y1="423.1" x2="178.25" y2="426.3" stroke="#222222" stroke-width="1"/>
<text x="178.25" y="434.8" font-size="6.35" fill="#2a2a2a" class="t" text-anchor="middle">84</text>
<line x1="197.1" y1="423.1" x2="197.1" y2="426.3" stroke="#222222" stroke-width="1"/>
<text x="197.1" y="434.8" font-size="6.35" fill="#2a2a2a" class="t" text-anchor="middle">96</text>
<line x1="215.95" y1="423.1" x2="215.95" y2="426.3" stroke="#222222" stroke-width="1"/>
<text x="215.95" y="434.8" font-size="6.35" fill="#2a2a2a" class="t" text-anchor="middle">108</text>
<line x1="234.8" y1="423.1" x2="234.8" y2="426.3" stroke="#222222" stroke-width="1"/>
<text x="234.8" y="434.8" font-size="6.35" fill="#2a2a2a" class="t" text-anchor="middle">120</text>
<text transform="translate(144.6 446) scale(0.67 1)" font-size="8.4" fill="#1a1a1a" stroke="#1a1a1a" stroke-width="0.25" text-anchor="middle">Time</text>
<text transform="translate(22 412.2) rotate(-90) scale(0.64 1)" font-size="8.2" fill="#1a1a1a" stroke="#1a1a1a" stroke-width="0.25" text-anchor="middle">Group</text>
<text x="268.3" y="244.4" font-size="10.6" font-weight="bold" fill="#111">D</text>
<line x1="364.5" y1="243.5" x2="372.1" y2="243.5" stroke="#9c1d45" stroke-width="1.1"/>
<line x1="368.3" y1="242.4" x2="368.3" y2="244.6" stroke="#9c1d45" stroke-width="1"/>
<text x="375.1" y="245.4" font-size="6.1" fill="#222" class="t">LC-MS (–)</text>
<line x1="408" y1="243.5" x2="415.6" y2="243.5" stroke="#d69c40" stroke-width="1.1"/>
<line x1="411.8" y1="242.4" x2="411.8" y2="244.6" stroke="#d69c40" stroke-width="1"/>
<text x="418" y="245.4" font-size="6.1" fill="#222" class="t">LC-MS (+)</text>
<line x1="298.4" y1="250.1" x2="298.4" y2="365.6" stroke="#222222" stroke-width="1.2"/>
<line x1="295.1" y1="255.35" x2="298.4" y2="255.35" stroke="#222222" stroke-width="1"/>
<text x="292.7" y="257.55" font-size="6.35" fill="#2a2a2a" class="t" text-anchor="end">1.00</text>
<line x1="295.1" y1="281.51" x2="298.4" y2="281.51" stroke="#222222" stroke-width="1"/>
<text x="292.7" y="283.71" font-size="6.35" fill="#2a2a2a" class="t" text-anchor="end">0.75</text>
<line x1="295.1" y1="307.67" x2="298.4" y2="307.67" stroke="#222222" stroke-width="1"/>
<text x="292.7" y="309.87" font-size="6.35" fill="#2a2a2a" class="t" text-anchor="end">0.50</text>
<line x1="295.1" y1="333.83" x2="298.4" y2="333.83" stroke="#222222" stroke-width="1"/>
<text x="292.7" y="336.03" font-size="6.35" fill="#2a2a2a" class="t" text-anchor="end">0.25</text>
<line x1="295.1" y1="359.99" x2="298.4" y2="359.99" stroke="#222222" stroke-width="1"/>
<text x="292.7" y="362.19" font-size="6.35" fill="#2a2a2a" class="t" text-anchor="end">0.00</text>
<line x1="297.6" y1="365" x2="514" y2="365" stroke="#222222" stroke-width="1.2"/>
<line x1="307.8" y1="365" x2="307.8" y2="368.2" stroke="#222222" stroke-width="1"/>
<text x="307.8" y="376.9" font-size="6.35" fill="#2a2a2a" class="t" text-anchor="middle">0</text>
<line x1="326.65" y1="365" x2="326.65" y2="368.2" stroke="#222222" stroke-width="1"/>
<text x="326.65" y="376.9" font-size="6.35" fill="#2a2a2a" class="t" text-anchor="middle">12</text>
<line x1="345.5" y1="365" x2="345.5" y2="368.2" stroke="#222222" stroke-width="1"/>
<text x="345.5" y="376.9" font-size="6.35" fill="#2a2a2a" class="t" text-anchor="middle">24</text>
<line x1="364.35" y1="365" x2="364.35" y2="368.2" stroke="#222222" stroke-width="1"/>
<text x="364.35" y="376.9" font-size="6.35" fill="#2a2a2a" class="t" text-anchor="middle">36</text>
<line x1="383.2" y1="365" x2="383.2" y2="368.2" stroke="#222222" stroke-width="1"/>
<text x="383.2" y="376.9" font-size="6.35" fill="#2a2a2a" class="t" text-anchor="middle">48</text>
<line x1="402.05" y1="365" x2="402.05" y2="368.2" stroke="#222222" stroke-width="1"/>
<text x="402.05" y="376.9" font-size="6.35" fill="#2a2a2a" class="t" text-anchor="middle">60</text>
<line x1="420.9" y1="365" x2="420.9" y2="368.2" stroke="#222222" stroke-width="1"/>
<text x="420.9" y="376.9" font-size="6.35" fill="#2a2a2a" class="t" text-anchor="middle">72</text>
<line x1="439.75" y1="365" x2="439.75" y2="368.2" stroke="#222222" stroke-width="1"/>
<text x="439.75" y="376.9" font-size="6.35" fill="#2a2a2a" class="t" text-anchor="middle">84</text>
<line x1="458.6" y1="365" x2="458.6" y2="368.2" stroke="#222222" stroke-width="1"/>
<text x="458.6" y="376.9" font-size="6.35" fill="#2a2a2a" class="t" text-anchor="middle">96</text>
<line x1="477.45" y1="365" x2="477.45" y2="368.2" stroke="#222222" stroke-width="1"/>
<text x="477.45" y="376.9" font-size="6.35" fill="#2a2a2a" class="t" text-anchor="middle">108</text>
<line x1="496.3" y1="365" x2="496.3" y2="368.2" stroke="#222222" stroke-width="1"/>
<text x="496.3" y="376.9" font-size="6.35" fill="#2a2a2a" class="t" text-anchor="middle">120</text>
<text transform="translate(406.1 388) scale(0.67 1)" font-size="8.4" fill="#1a1a1a" stroke="#1a1a1a" stroke-width="0.25" text-anchor="middle">Time</text>
<text transform="translate(274.8 307.3) rotate(-90) scale(0.67 1)" font-size="8.3" fill="#1a1a1a" stroke="#1a1a1a" stroke-width="0.25" text-anchor="middle">Overall survival</text>
<text x="305.7" y="355.8" font-size="6.38" fill="#222" class="t">HR = 0.36 (95% CI: 0.08-1.63); <tspan font-style="italic">P</tspan> = .17</text>
<path d="M307.7 254.9H396.2V261.7H477.3V281.4H509.9" fill="none" stroke="#9c1d45" stroke-width="1.35"/>
<line x1="346" y1="253.5" x2="346" y2="256.3" stroke="#9c1d45" stroke-width="0.8"/>
<line x1="350" y1="253.5" x2="350" y2="256.3" stroke="#9c1d45" stroke-width="0.8"/>
<line x1="353" y1="253.5" x2="353" y2="256.3" stroke="#9c1d45" stroke-width="0.8"/>
<line x1="356" y1="253.5" x2="356" y2="256.3" stroke="#9c1d45" stroke-width="0.8"/>
<line x1="359" y1="253.5" x2="359" y2="256.3" stroke="#9c1d45" stroke-width="0.8"/>
<line x1="362" y1="253.5" x2="362" y2="256.3" stroke="#9c1d45" stroke-width="0.8"/>
<line x1="365" y1="253.5" x2="365" y2="256.3" stroke="#9c1d45" stroke-width="0.8"/>
<line x1="368" y1="253.5" x2="368" y2="256.3" stroke="#9c1d45" stroke-width="0.8"/>
<line x1="371" y1="253.5" x2="371" y2="256.3" stroke="#9c1d45" stroke-width="0.8"/>
<line x1="374" y1="253.5" x2="374" y2="256.3" stroke="#9c1d45" stroke-width="0.8"/>
<line x1="377" y1="253.5" x2="377" y2="256.3" stroke="#9c1d45" stroke-width="0.8"/>
<line x1="380" y1="253.5" x2="380" y2="256.3" stroke="#9c1d45" stroke-width="0.8"/>
<line x1="384" y1="253.5" x2="384" y2="256.3" stroke="#9c1d45" stroke-width="0.8"/>
<line x1="388" y1="253.5" x2="388" y2="256.3" stroke="#9c1d45" stroke-width="0.8"/>
<line x1="391" y1="253.5" x2="391" y2="256.3" stroke="#9c1d45" stroke-width="0.8"/>
<line x1="404" y1="260.3" x2="404" y2="263.1" stroke="#9c1d45" stroke-width="0.8"/>
<line x1="409" y1="260.3" x2="409" y2="263.1" stroke="#9c1d45" stroke-width="0.8"/>
<line x1="424" y1="260.3" x2="424" y2="263.1" stroke="#9c1d45" stroke-width="0.8"/>
<line x1="438" y1="260.3" x2="438" y2="263.1" stroke="#9c1d45" stroke-width="0.8"/>
<line x1="448" y1="260.3" x2="448" y2="263.1" stroke="#9c1d45" stroke-width="0.8"/>
<line x1="466.5" y1="260.3" x2="466.5" y2="263.1" stroke="#9c1d45" stroke-width="0.8"/>
<line x1="481" y1="280" x2="481" y2="282.8" stroke="#9c1d45" stroke-width="0.8"/>
<line x1="494" y1="280" x2="494" y2="282.8" stroke="#9c1d45" stroke-width="0.8"/>
<line x1="500" y1="280" x2="500" y2="282.8" stroke="#9c1d45" stroke-width="0.8"/>
<line x1="509.9" y1="280" x2="509.9" y2="282.8" stroke="#9c1d45" stroke-width="0.8"/>
<path d="M307.7 254.9H325.4V256.5H343V259.5H365.4V262.5H367.7V264H370V266.5H386.9V268.2H392.3V271.6H449.9V277.4H469.4V283.7H500.6V321.5H508.5" fill="none" stroke="#d69c40" stroke-width="1.35"/>
<line x1="319" y1="253.5" x2="319" y2="256.3" stroke="#d69c40" stroke-width="0.8"/>
<line x1="354" y1="258.1" x2="354" y2="260.9" stroke="#d69c40" stroke-width="0.8"/>
<line x1="360" y1="258.1" x2="360" y2="260.9" stroke="#d69c40" stroke-width="0.8"/>
<line x1="400" y1="270.2" x2="400" y2="273" stroke="#d69c40" stroke-width="0.8"/>
<line x1="405" y1="270.2" x2="405" y2="273" stroke="#d69c40" stroke-width="0.8"/>
<line x1="408" y1="270.2" x2="408" y2="273" stroke="#d69c40" stroke-width="0.8"/>
<line x1="417" y1="270.2" x2="417" y2="273" stroke="#d69c40" stroke-width="0.8"/>
<line x1="430" y1="270.2" x2="430" y2="273" stroke="#d69c40" stroke-width="0.8"/>
<line x1="436" y1="270.2" x2="436" y2="273" stroke="#d69c40" stroke-width="0.8"/>
<line x1="438" y1="270.2" x2="438" y2="273" stroke="#d69c40" stroke-width="0.8"/>
<line x1="458" y1="276" x2="458" y2="278.8" stroke="#d69c40" stroke-width="0.8"/>
<line x1="460" y1="276" x2="460" y2="278.8" stroke="#d69c40" stroke-width="0.8"/>
<line x1="483" y1="282.3" x2="483" y2="285.1" stroke="#d69c40" stroke-width="0.8"/>
<line x1="486" y1="282.3" x2="486" y2="285.1" stroke="#d69c40" stroke-width="0.8"/>
<line x1="495" y1="282.3" x2="495" y2="285.1" stroke="#d69c40" stroke-width="0.8"/>
<line x1="498" y1="282.3" x2="498" y2="285.1" stroke="#d69c40" stroke-width="0.8"/>
<line x1="508.5" y1="320.1" x2="508.5" y2="322.9" stroke="#d69c40" stroke-width="0.8"/>
<text x="298.1" y="398.9" font-size="6.25" fill="#222" class="t">Number at risk</text>
<line x1="298.3" y1="402.5" x2="298.3" y2="423.5" stroke="#222222" stroke-width="1.2"/>
<line x1="297.8" y1="423.1" x2="514" y2="423.1" stroke="#222222" stroke-width="1.2"/>
<line x1="295.1" y1="406.5" x2="298.3" y2="406.5" stroke="#222222" stroke-width="1"/>
<text x="290.3" y="408.7" font-size="6.35" fill="#9c1d45" fill-opacity="0.85" text-anchor="middle">1</text>
<text x="307.8" y="408.7" font-size="6.35" fill="#2a2a2a" class="t" text-anchor="middle">35</text>
<text x="326.65" y="408.7" font-size="6.35" fill="#2a2a2a" class="t" text-anchor="middle">35</text>
<text x="345.5" y="408.7" font-size="6.35" fill="#2a2a2a" class="t" text-anchor="middle">35</text>
<text x="364.35" y="408.7" font-size="6.35" fill="#2a2a2a" class="t" text-anchor="middle">26</text>
<text x="383.2" y="408.7" font-size="6.35" fill="#2a2a2a" class="t" text-anchor="middle">18</text>
<text x="402.05" y="408.7" font-size="6.35" fill="#2a2a2a" class="t" text-anchor="middle">15</text>
<text x="420.9" y="408.7" font-size="6.35" fill="#2a2a2a" class="t" text-anchor="middle">9</text>
<text x="439.75" y="408.7" font-size="6.35" fill="#2a2a2a" class="t" text-anchor="middle">7</text>
<text x="458.6" y="408.7" font-size="6.35" fill="#2a2a2a" class="t" text-anchor="middle">6</text>
<text x="477.45" y="408.7" font-size="6.35" fill="#2a2a2a" class="t" text-anchor="middle">5</text>
<text x="496.3" y="408.7" font-size="6.35" fill="#2a2a2a" class="t" text-anchor="middle">2</text>
<line x1="295.1" y1="416.9" x2="298.3" y2="416.9" stroke="#222222" stroke-width="1"/>
<text x="290.3" y="419.1" font-size="6.35" fill="#d69c40" fill-opacity="0.85" text-anchor="middle">2</text>
<text x="307.8" y="419.1" font-size="6.35" fill="#2a2a2a" class="t" text-anchor="middle">62</text>
<text x="326.65" y="419.1" font-size="6.35" fill="#2a2a2a" class="t" text-anchor="middle">60</text>
<text x="345.5" y="419.1" font-size="6.35" fill="#2a2a2a" class="t" text-anchor="middle">58</text>
<text x="364.35" y="419.1" font-size="6.35" fill="#2a2a2a" class="t" text-anchor="middle">51</text>
<text x="383.2" y="419.1" font-size="6.35" fill="#2a2a2a" class="t" text-anchor="middle">41</text>
<text x="402.05" y="419.1" font-size="6.35" fill="#2a2a2a" class="t" text-anchor="middle">30</text>
<text x="420.9" y="419.1" font-size="6.35" fill="#2a2a2a" class="t" text-anchor="middle">20</text>
<text x="439.75" y="419.1" font-size="6.35" fill="#2a2a2a" class="t" text-anchor="middle">17</text>
<text x="458.6" y="419.1" font-size="6.35" fill="#2a2a2a" class="t" text-anchor="middle">15</text>
<text x="477.45" y="419.1" font-size="6.35" fill="#2a2a2a" class="t" text-anchor="middle">11</text>
<text x="496.3" y="419.1" font-size="6.35" fill="#2a2a2a" class="t" text-anchor="middle">4</text>
<line x1="307.8" y1="423.1" x2="307.8" y2="426.3" stroke="#222222" stroke-width="1"/>
<text x="307.8" y="434.8" font-size="6.35" fill="#2a2a2a" class="t" text-anchor="middle">0</text>
<line x1="326.65" y1="423.1" x2="326.65" y2="426.3" stroke="#222222" stroke-width="1"/>
<text x="326.65" y="434.8" font-size="6.35" fill="#2a2a2a" class="t" text-anchor="middle">12</text>
<line x1="345.5" y1="423.1" x2="345.5" y2="426.3" stroke="#222222" stroke-width="1"/>
<text x="345.5" y="434.8" font-size="6.35" fill="#2a2a2a" class="t" text-anchor="middle">24</text>
<line x1="364.35" y1="423.1" x2="364.35" y2="426.3" stroke="#222222" stroke-width="1"/>
<text x="364.35" y="434.8" font-size="6.35" fill="#2a2a2a" class="t" text-anchor="middle">36</text>
<line x1="383.2" y1="423.1" x2="383.2" y2="426.3" stroke="#222222" stroke-width="1"/>
<text x="383.2" y="434.8" font-size="6.35" fill="#2a2a2a" class="t" text-anchor="middle">48</text>
<line x1="402.05" y1="423.1" x2="402.05" y2="426.3" stroke="#222222" stroke-width="1"/>
<text x="402.05" y="434.8" font-size="6.35" fill="#2a2a2a" class="t" text-anchor="middle">60</text>
<line x1="420.9" y1="423.1" x2="420.9" y2="426.3" stroke="#222222" stroke-width="1"/>
<text x="420.9" y="434.8" font-size="6.35" fill="#2a2a2a" class="t" text-anchor="middle">72</text>
<line x1="439.75" y1="423.1" x2="439.75" y2="426.3" stroke="#222222" stroke-width="1"/>
<text x="439.75" y="434.8" font-size="6.35" fill="#2a2a2a" class="t" text-anchor="middle">84</text>
<line x1="458.6" y1="423.1" x2="458.6" y2="426.3" stroke="#222222" stroke-width="1"/>
<text x="458.6" y="434.8" font-size="6.35" fill="#2a2a2a" class="t" text-anchor="middle">96</text>
<line x1="477.45" y1="423.1" x2="477.45" y2="426.3" stroke="#222222" stroke-width="1"/>
<text x="477.45" y="434.8" font-size="6.35" fill="#2a2a2a" class="t" text-anchor="middle">108</text>
<line x1="496.3" y1="423.1" x2="496.3" y2="426.3" stroke="#222222" stroke-width="1"/>
<text x="496.3" y="434.8" font-size="6.35" fill="#2a2a2a" class="t" text-anchor="middle">120</text>
<text transform="translate(406.1 446) scale(0.67 1)" font-size="8.4" fill="#1a1a1a" stroke="#1a1a1a" stroke-width="0.25" text-anchor="middle">Time</text>
<text transform="translate(283.5 412.2) rotate(-90) scale(0.64 1)" font-size="8.2" fill="#1a1a1a" stroke="#1a1a1a" stroke-width="0.25" text-anchor="middle">Group</text>
</svg>
</body></html>
